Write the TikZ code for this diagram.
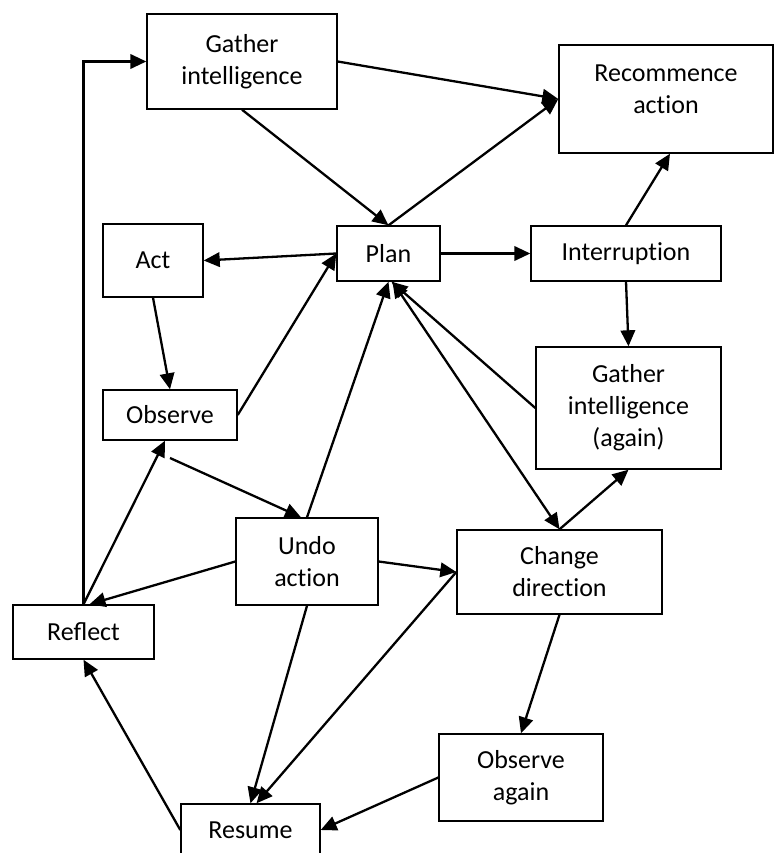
\documentclass[tikz,border=0pt]{standalone}
\usepackage{fontspec}
\setmainfont{Carlito}
\usetikzlibrary{arrows.meta}
\newcommand{\nl}{\kern0pt}% keeps t and i apart

\begin{document}
\begin{tikzpicture}[x=1pt,y=-1pt,
  box/.style={draw,line width=1.4pt,inner sep=0pt,align=center,
    font=\fontsize{26}{32}\selectfont},
  arr/.style={-{Triangle[length=16pt,width=14.5pt]},line width=2.3pt},
  dbl/.style={{Triangle[length=16pt,width=14.5pt]}-{Triangle[length=16pt,width=14.5pt]},line width=2.3pt}]
\useasboundingbox (0,0) rectangle (774,853);
% boxes
\node[box,minimum width=190pt,minimum height=95pt] (gath) at (242,61.5) {Gather\\intelligence};
\node[box,minimum width=214pt,minimum height=108pt,text depth=20pt] (recom) at (666,99) {Recommence\\act\nl ion};
\node[box,minimum width=103pt,minimum height=55pt] (plan) at (388.5,253.5) {Plan};
\node[box,minimum width=190pt,minimum height=55pt] (intr) at (626,253.5) {Interrupt\nl ion};
\node[box,minimum width=100pt,minimum height=73pt] (act) at (153,260.5) {Act};
\node[box,minimum width=134pt,minimum height=50pt] (obs) at (170,415) {Observe};
\node[box,minimum width=185pt,minimum height=122pt] (gagain) at (628.5,408) {Gather\\intelligence\\(again)};
\node[box,minimum width=142pt,minimum height=87pt] (undo) at (307,561.5) {Undo\\act\nl ion};
\node[box,minimum width=205pt,minimum height=84pt] (chg) at (559.5,572) {Change\\direct\nl ion};
\node[box,minimum width=141pt,minimum height=54pt] (refl) at (83.5,632) {Reflect};
\node[box,minimum width=139pt,minimum height=52pt] (resume) at (250.5,830) {Resume};
\node[box,minimum width=164pt,minimum height=87pt] (obsagain) at (521,777.5) {Observe\\again};
\coordinate (obsfoot) at (170,458);
% arrows
\draw[arr] (refl.north) |- (gath.west);
\draw[arr] (gath.east) -- (recom.west);
\draw[arr] (gath.south) -- (plan.north);
\draw[arr] (plan.north) -- (recom.west);
\draw[arr] (plan.west) -- (act.east);
\draw[arr] (plan.east) -- (intr.west);
\draw[arr] (intr.north) -- ([xshift=4pt]recom.south);
\draw[arr] (intr.south) -- (gagain.north);
\draw[arr] (act.south) -- (obs.north);
\draw[arr] (obs.east) -- (plan.west);
\draw[arr] (undo.north) -- (plan.south);
\draw[arr] (gagain.west) -- ([xshift=3pt]plan.south);
\draw[dbl] ([xshift=4pt]plan.south) -- (chg.north);
\draw[arr] (chg.north) -- (gagain.south);
\draw[arr] (refl.north) -- ([xshift=-5pt]obs.south);
\draw[arr] (obsfoot) -- ([xshift=-6pt]undo.north);
\draw[arr] (undo.west) -- ([xshift=6pt]refl.north);
\draw[arr] (undo.east) -- (chg.west);
\draw[arr] (undo.south) -- (resume.north);
\draw[arr] (chg.west) -- ([xshift=6pt]resume.north);
\draw[arr] (chg.south) -- (obsagain.north);
\draw[arr] (obsagain.west) -- (resume.east);
\draw[arr] (resume.west) -- (refl.south);
\end{tikzpicture}
\end{document}
